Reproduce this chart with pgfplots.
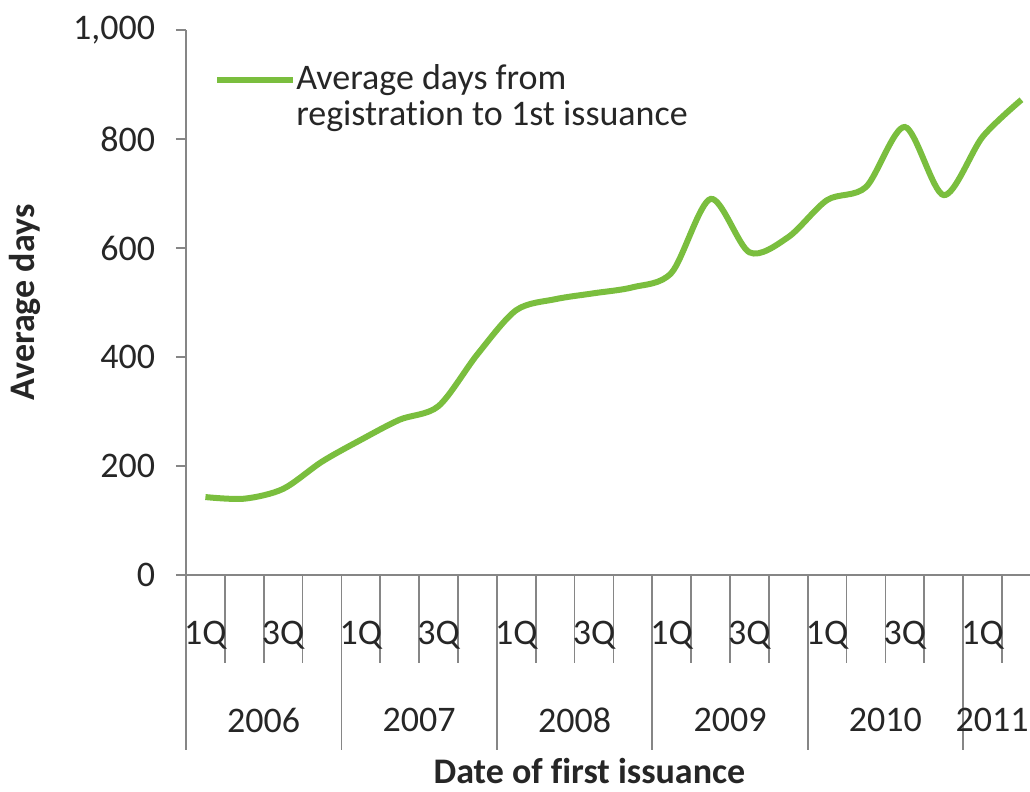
\documentclass[border=0pt]{standalone}
\usepackage{pgfplots}
\pgfplotsset{compat=1.18}
\usepackage{fontspec}
\setmainfont{Carlito}[Ligatures=NoCommon]
\definecolor{lgreen}{RGB}{122,190,62}
\definecolor{axgray}{RGB}{134,134,134}
\pgfplotstableread{
x    days
0.5  143
1.5  140
2.5  158
3.5  208
4.5  248
5.5  285
6.5  310
7.5  405
8.5  486
9.5  506
10.5 517
11.5 528
12.5 555
13.5 690
14.5 592
15.5 620
16.5 688
17.5 712
18.5 822
19.5 697
20.5 804
21.5 872
}\datatable
\begin{document}
\fontsize{18}{20}\selectfont
\begin{tikzpicture}
\path[use as bounding box] (-93pt,-108.5pt) rectangle (422pt,287.5pt);
\begin{axis}[
	at={(0,0)},anchor=south west,
	scale only axis,width=422pt,height=272.5pt,
	xmin=0,xmax=21.72,ymin=0,ymax=1000,
	clip=false,
	axis x line*=bottom,axis y line*=left,
	axis line style={axgray,line width=0.9pt},
	tick align=outside,
	ytick={0,200,...,1000},
	ytick style={axgray,line width=0.9pt,/pgfplots/major tick length=5pt},
	yticklabel style={font=\fontsize{18}{20}\selectfont,text=black!85,xshift=-5pt},
	/pgf/number format/assume math mode=true,
	xtick={0,4,...,20},xticklabels={},
	xtick style={axgray,line width=0.9pt,/pgfplots/major tick length=87.5pt},
	minor xtick={1,2,3,5,6,7,9,10,11,13,14,15,17,18,19,21},
	minor x tick style={axgray,line width=0.9pt,/pgfplots/minor tick length=44pt},
	ylabel={\bfseries Average days},
	ylabel style={at={(axis description cs:-0.191,0.5)},anchor=center,font=\fontsize{18}{20}\selectfont,text=black!85},
	xlabel={\bfseries Date of first issuance},
	xlabel style={at={(axis description cs:0.478,-0.359)},anchor=center,font=\fontsize{18}{20}\selectfont,text=black!85},
	legend style={at={(axis description cs:0.033,0.945)},anchor=north west,draw=none,fill=none,
		font=\fontsize{18}{18}\selectfont,text=black!85,inner sep=0pt,
		nodes={align=left,inner xsep=0pt}},
	legend cell align=left,
	legend image code/.code={\draw[#1,line width=3pt] (0pt,9pt) -- (38pt,9pt);},
]
\addplot[lgreen,line width=3pt,smooth,tension=0.5] table[x=x,y=days] {\datatable};
\addlegendentry{Average days from\\registration to 1st issuance}
\pgfplotsinvokeforeach{0.5,4.5,8.5,12.5,16.5,20.5}{
	\node[text=black!85] at (axis cs:#1,0) [yshift=-30pt] {1Q};
}
\pgfplotsinvokeforeach{2.5,6.5,10.5,14.5,18.5}{
	\node[text=black!85] at (axis cs:#1,0) [yshift=-30pt] {3Q};
}
\node[text=black!85] at (axis cs:2,0) [yshift=-72.5pt] {2006};
\node[text=black!85] at (axis cs:6,0) [yshift=-72.5pt] {2007};
\node[text=black!85] at (axis cs:10,0) [yshift=-72.5pt] {2008};
\node[text=black!85] at (axis cs:14,0) [yshift=-72.5pt] {2009};
\node[text=black!85] at (axis cs:18,0) [yshift=-72.5pt] {2010};
\node[text=black!85,anchor=east,inner xsep=0.5pt] at (axis cs:21.72,0) [yshift=-72.5pt] {2011};
\end{axis}
\end{tikzpicture}
\end{document}
